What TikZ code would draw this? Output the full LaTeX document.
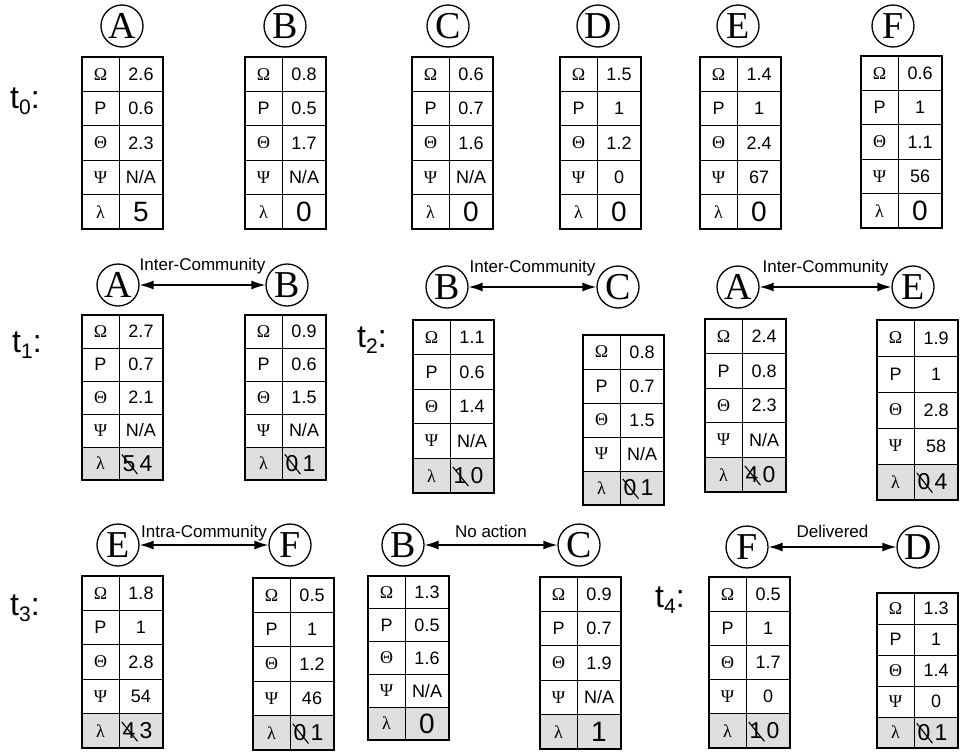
\documentclass[tikz,border=0pt]{standalone}
\usepackage{fontspec}
\setmainfont{Liberation Sans}
\newfontfamily\grk{Liberation Serif}
\usetikzlibrary{arrows.meta}
\newcommand*{\colA}{37}
\newcommand*{\colB}{81}
\newcommand*{\tsub}[1]{\raisebox{-0.2em}{\fontsize{21}{21}\selectfont #1}}

% one agent table: name, left, top, row height, Omega, P, Theta, Psi, fill of last row
\newcommand{\agent}[9]{%
  \begin{scope}[shift={(#2,#3)}]
    \fill[#9] (0,4*#4) rectangle (\colB,5*#4);
    \foreach \r in {1,...,4}
      \draw[cellline] (0,\r*#4) -- (\colB,\r*#4);
    \draw[cellline] (\colA,0) -- (\colA,5*#4);
    \draw[tabframe] (0,0) rectangle (\colB,5*#4);
    \node[sym] (#1-s1) at (18.5,0.5*#4) {Ω};
    \node[val] (#1-s2) at (18.5,1.5*#4) {P};
    \node[sym] (#1-s3) at (18.5,2.5*#4) {Θ};
    \node[sym] (#1-s4) at (18.5,3.5*#4) {Ψ};
    \node[sym] (#1-s5) at (18.5,4.5*#4) {λ};
    \node[val] (#1-v1) at (59,0.5*#4) {#5};
    \node[val] (#1-v2) at (59,1.5*#4) {#6};
    \node[val] (#1-v3) at (59,2.5*#4) {#7};
    \node[val] (#1-v4) at (59,3.5*#4) {#8};
    \coordinate (#1-l) at (59,4.5*#4);
  \end{scope}}
\newcommand{\lamval}[2]{\node[lamval] (#1-new) at (#1-l) {#2};}
\newcommand{\lamchg}[3]{%
  \node[lamnew, xshift=-12pt] (#1-old) at (#1-l) {#2};
  \node[lamnew, xshift=5pt] (#1-new) at (#1-l) {#3};
  \draw[strike] (#1-old.north west) -- (#1-old.south east);}

\begin{document}
\begin{tikzpicture}[x=1pt,y=-1pt]
\tikzset{agentcirc/.style={draw, circle, line width=1.3pt, minimum size=42pt, inner sep=0pt, font=\grk\fontsize{38}{38}\selectfont},
  sym/.style={font=\grk\fontsize{18}{18}\selectfont, inner sep=0pt},
  val/.style={font=\fontsize{18}{18}\selectfont, inner sep=0pt},
  lamval/.style={font=\fontsize{28}{28}\selectfont, inner sep=0pt},
  lamnew/.style={font=\fontsize{23}{23}\selectfont, inner sep=0pt},
  cellline/.style={line width=1pt},
  tabframe/.style={line width=1.6pt},
  strike/.style={line width=1.1pt, shorten <=-1pt, shorten >=-3pt},
  link/.style={{Latex[length=14pt,width=9pt]}-{Latex[length=14pt,width=9pt]}, line width=1.4pt},
  linklabel/.style={font=\fontsize{17}{17}\selectfont, anchor=base, inner sep=0pt},
  tlabel/.style={font=\fontsize{32}{32}\selectfont, anchor=base west, inner sep=0pt}}
\colorlet{lamfill}{black!13}

    \useasboundingbox (0,0) rectangle (960,752);

    % t0
    \node[tlabel] (t0) at (10,108) {t\tsub{0}:};
    \node[agentcirc] (A0) at (122,26) {A};
    \node[agentcirc] (B0) at (285,26) {B};
    \node[agentcirc] (C0) at (448,26) {C};
    \node[agentcirc] (D0) at (598,26) {D};
    \node[agentcirc] (E0) at (738,26) {E};
    \node[agentcirc] (F0) at (893,26) {F};
    \agent{A0}{82}{57}{34.4}{2.6}{0.6}{2.3}{N/A}{white} \lamval{A0}{5}
    \agent{B0}{245}{57}{34.4}{0.8}{0.5}{1.7}{N/A}{white} \lamval{B0}{0}
    \agent{C0}{412}{57}{34.4}{0.6}{0.7}{1.6}{N/A}{white} \lamval{C0}{0}
    \agent{D0}{560}{57}{34.4}{1.5}{1}{1.2}{0}{white} \lamval{D0}{0}
    \agent{E0}{700}{57}{34.4}{1.4}{1}{2.4}{67}{white} \lamval{E0}{0}
    \agent{F0}{861}{56}{34.4}{0.6}{1}{1.1}{56}{white} \lamval{F0}{0}

    % t1
    \node[tlabel] (t1) at (12,352) {t\tsub{1}:};
    \node[agentcirc] (A1) at (118,285) {A};
    \node[agentcirc] (B1) at (287,285) {B};
    \draw[link] (A1) -- (B1) node[linklabel, midway, yshift=15pt] (l1) {Inter-Community};
    \agent{A1}{82}{315}{33}{2.7}{0.7}{2.1}{N/A}{lamfill} \lamchg{A1}{5}{4}
    \agent{B1}{245}{315}{33}{0.9}{0.6}{1.5}{N/A}{lamfill} \lamchg{B1}{0}{1}

    % t2
    \node[tlabel] (t2) at (357,347) {t\tsub{2}:};
    \node[agentcirc] (B2) at (447,287) {B};
    \node[agentcirc] (C2) at (618,287) {C};
    \draw[link] (B2) -- (C2) node[linklabel, midway, yshift=15pt] (l2) {Inter-Community};
    \agent{B2}{413}{320}{34.6}{1.1}{0.6}{1.4}{N/A}{lamfill} \lamchg{B2}{1}{0}
    \agent{C2}{583}{335}{34}{0.8}{0.7}{1.5}{N/A}{lamfill} \lamchg{C2}{0}{1}
    \node[agentcirc] (A2) at (738,287) {A};
    \node[agentcirc] (E2) at (913,287) {E};
    \draw[link] (A2) -- (E2) node[linklabel, midway, yshift=15pt] (l3) {Inter-Community};
    \agent{A2}{705}{319}{34.6}{2.4}{0.8}{2.3}{N/A}{lamfill} \lamchg{A2}{4}{0}
    \agent{E2}{877}{320}{36}{1.9}{1}{2.8}{58}{lamfill} \lamchg{E2}{0}{4}

    % t3
    \node[tlabel] (t3) at (10,615) {t\tsub{3}:};
    \node[agentcirc] (E3) at (118,545) {E};
    \node[agentcirc] (F3) at (290,545) {F};
    \draw[link] (E3) -- (F3) node[linklabel, midway, yshift=8pt] (l4) {Intra-Community};
    \agent{E3}{82}{576}{34.4}{1.8}{1}{2.8}{54}{lamfill} \lamchg{E3}{4}{3}
    \agent{F3}{253}{578}{34.4}{0.5}{1}{1.2}{46}{lamfill} \lamchg{F3}{0}{1}
    \node[agentcirc] (B3) at (403,545) {B};
    \node[agentcirc] (C3) at (579,545) {C};
    \draw[link] (B3) -- (C3) node[linklabel, midway, yshift=8pt] (l5) {No action};
    \agent{B3}{368}{576}{32.8}{1.3}{0.5}{1.6}{N/A}{lamfill} \lamval{B3}{0}
    \agent{C3}{540}{577}{34.4}{0.9}{0.7}{1.9}{N/A}{lamfill} \lamval{C3}{1}

    % t4
    \node[tlabel] (t4) at (655,607) {t\tsub{4}:};
    \node[agentcirc] (F4) at (747,547) {F};
    \node[agentcirc] (D4) at (918,547) {D};
    \draw[link] (F4) -- (D4) node[linklabel, midway, yshift=10pt] (l6) {Delivered};
    \agent{F4}{709}{577}{34.2}{0.5}{1}{1.7}{0}{lamfill} \lamchg{F4}{1}{0}
    \agent{D4}{877}{593}{31}{1.3}{1}{1.4}{0}{lamfill} \lamchg{D4}{0}{1}
\end{tikzpicture}
\end{document}
